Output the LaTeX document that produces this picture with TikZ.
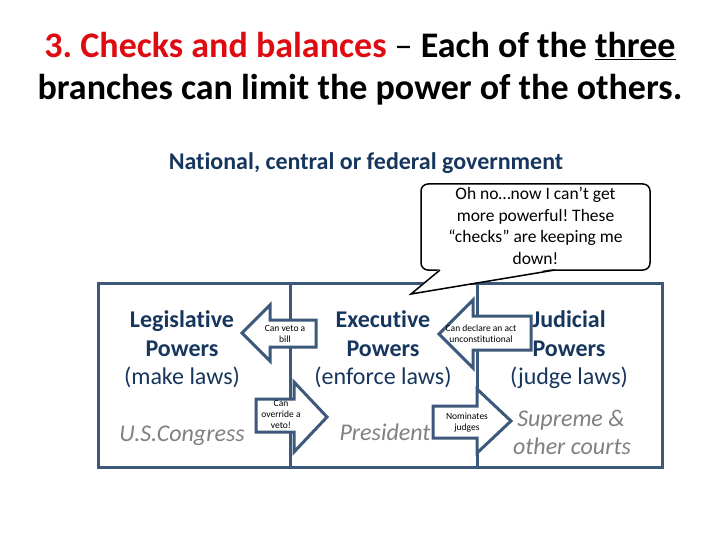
\documentclass[tikz,border=0pt]{standalone}
\usepackage{fontspec}
\setmainfont[Ligatures=NoCommon]{Carlito}
\definecolor{navy}{RGB}{23,54,93}
\definecolor{boxblue}{RGB}{60,88,122}
\definecolor{greytext}{RGB}{128,128,128}
\definecolor{titlered}{RGB}{222,12,18}
\frenchspacing
\begin{document}
\begin{tikzpicture}[x=1pt,y=-1pt,
  branch/.style={font=\fontsize{24}{29}\selectfont\bfseries, text=navy, anchor=base, inner sep=0},
  sublabel/.style={font=\fontsize{24}{29}\selectfont, text=navy, anchor=base, inner sep=0},
  who/.style={font=\fontsize{24}{29}\selectfont\itshape, text=greytext, anchor=base, inner sep=0},
  arrowshape/.style={draw=boxblue, line width=3, fill=white, line join=miter},
  arrowtext/.style={font=\fontsize{9.5}{11}\selectfont, align=center, inner sep=0},
  frame/.style={draw=boxblue, line width=3},
  bubble/.style={draw=black, line width=1.5, fill=white, rounded corners=7}]
\useasboundingbox (0,0) rectangle (720,540);

% title
\node[anchor=base, inner sep=0, font=\fontsize{36}{42}\selectfont\bfseries] (t1) at (360,58)
  {\textcolor{titlered}{3. Checks and balances} {\mdseries –} Each of the \underline{three}};
\node[anchor=base, inner sep=0, font=\fontsize{36}{42}\selectfont\bfseries] (t2) at (360,100)
  {branches can limit the power of the others.};
\node[anchor=base, inner sep=0, font=\fontsize{24}{29}\selectfont\bfseries, text=navy] (gov) at (366,170)
  {National, central or federal government};

% frame
\draw[frame] (98,283) rectangle (662,467);
\coordinate (d1t) at (290,283); \coordinate (d1b) at (290,467);
\coordinate (d2t) at (477,283); \coordinate (d2b) at (477,467);
\draw[frame] (d1t) -- (d1b);
\draw[frame] (d2t) -- (d2b);

% branch texts
\node[branch] (leg1) at (182,327) {Legislative};
\node[branch] (leg2) at (182,356) {Powers};
\node[sublabel] (leg3) at (182,384) {(make laws)};
\node[who] (cong) at (182,441) {U.S.Congress};

\node[branch] (exe1) at (383,327) {Executive};
\node[branch] (exe2) at (383,356) {Powers};
\node[sublabel] (exe3) at (383,384) {(enforce laws)};
\node[who] (pres) at (385,440) {President};

\node[branch] (jud1) at (569,327) {Judicial};
\node[branch] (jud2) at (569,356) {Powers};
\node[sublabel] (jud3) at (569,384) {(judge laws)};
\node[who] (sup1) at (571,426) {Supreme \&};
\node[who] (sup2) at (572,454) {other courts};

% arrows
\draw[arrowshape] (316,320) -- (270,320) -- (270,305) -- (242,333) -- (270,361) -- (270,347) -- (316,347) -- cycle;
\node[arrowtext] (veto) at (285,334) {Can veto a\\bill};

\draw[arrowshape] (256,399) -- (294,399) -- (294,382) -- (327,417) -- (294,452) -- (294,432) -- (256,432) -- cycle;
\node[arrowtext] (over) at (281,414) {Can\\override a\\veto!};

\draw[arrowshape] (531,316) -- (473,316) -- (473,300) -- (439,334) -- (473,368) -- (473,350) -- (531,350) -- cycle;
\node[arrowtext] (decl) at (481,334) {Can declare an act\\unconstitutional};

\draw[arrowshape] (433,406) -- (477,406) -- (477,389) -- (511,421) -- (477,453) -- (477,438) -- (433,438) -- cycle;
\node[arrowtext] (nom) at (467,423) {Nominates\\judges};

% callout
\draw[bubble] (421,184) rectangle (650,270);
\coordinate (tailL) at (440,270);
\coordinate (tailR) at (555,270);
\coordinate (tip) at (411,294);
\fill[white] (440,268.5) -- (tip) -- (555,268.5) -- cycle;
\draw[line width=1.5, line join=miter] (tailL) -- (tip) -- (tailR);
\node[align=center, inner sep=0, font=\fontsize{17.5}{21.5}\selectfont] (say) at (535.5,226)
  {Oh no…now I can’t get\\more powerful! These\\“checks” are keeping me\\down!};
\end{tikzpicture}
\end{document}
